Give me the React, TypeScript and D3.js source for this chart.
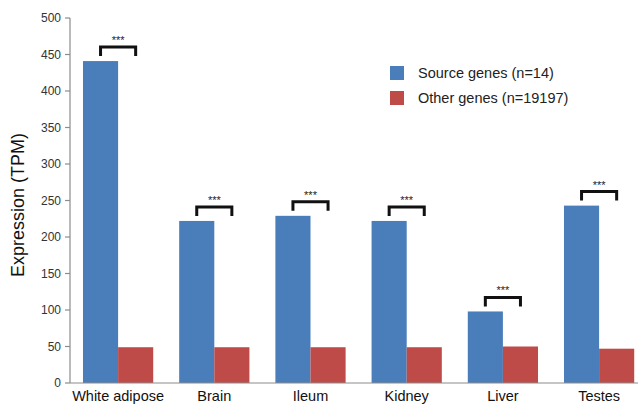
import React from "react";
import * as d3 from "d3";

const categories = ["White adipose", "Brain", "Ileum", "Kidney", "Liver", "Testes"];
const sourceValues = [441, 222, 229, 222, 98, 243];
const otherValues = [49, 49, 49, 49, 50, 47];
const seriesNames = ["Source genes (n=14)", "Other genes (n=19197)"];
const yTicks = [0, 50, 100, 150, 200, 250, 300, 350, 400, 450, 500];
const sigLabels = ["***", "***", "***", "***", "***", "***"];

const W = 638;
const H = 409;
const colors = ["#4A7EBB", "#BE4B48"];

export default function App() {
  const left = 70;
  const y = d3.scaleLinear().domain([0, 500]).range([383, 18]);
  const x = d3.scaleBand().domain(categories).range([left, left + 6 * 96.2]).paddingInner(0.27).paddingOuter(0.135);
  const bw = x.bandwidth() / 2;
  const font = "Arial, 'Liberation Sans', sans-serif";

  return (
    <svg width={W} height={H} style={{ position: "absolute", left: 0, top: 0, background: "#fff" }} fontFamily={font}>
      <rect width={W} height={H} fill="#fff" />
      {/* y axis */}
      <line x1={left} x2={left} y1={y(500)} y2={y(0)} stroke="#8c8c8c" strokeWidth={1.2} />
      {yTicks.map((t) => (
        <g key={t}>
          <line x1={left - 5} x2={left} y1={y(t)} y2={y(t)} stroke="#8c8c8c" strokeWidth={1.2} />
          <text x={left - 9} y={y(t)} dy="0.35em" textAnchor="end" fontSize={12} fill="#333">
            {t}
          </text>
        </g>
      ))}
      {/* bars */}
      {categories.map((c, i) => {
        const x0 = x(c) as number;
        const ys = y(sourceValues[i]);
        const xb = x0 + bw / 2;
        const xr = x0 + bw * 1.5;
        const top = ys - 14;
        return (
          <g key={c}>
            <rect x={x0} y={ys} width={bw} height={y(0) - ys} fill={colors[0]} />
            <rect x={x0 + bw} y={y(otherValues[i])} width={bw} height={y(0) - y(otherValues[i])} fill={colors[1]} />
            <path d={`M${xb},${top + 9}V${top}H${xr}V${top + 9}`} fill="none" stroke="#111" strokeWidth={3} />
            <text x={(xb + xr) / 2} y={top - 3} textAnchor="middle" fontSize={11} fill="#222">
              {sigLabels[i]}
            </text>
            <text x={x0 + bw} y={401} textAnchor="middle" fontSize={14.5} fill="#111">
              {c}
            </text>
          </g>
        );
      })}
      {/* x axis */}
      <line x1={left} x2={W} y1={y(0)} y2={y(0)} stroke="#8c8c8c" strokeWidth={1.2} />
      {/* y label */}
      <text transform={`translate(24,205) rotate(-90)`} textAnchor="middle" fontSize={18} fill="#111">
        Expression (TPM)
      </text>
      {/* legend */}
      {seriesNames.map((s, i) => (
        <g key={s} transform={`translate(390,${66 + i * 25})`}>
          <rect width={14} height={14} fill={colors[i]} />
          <text x={28} y={12} fontSize={14.5} fill="#222">
            {s}
          </text>
        </g>
      ))}
    </svg>
  );
}
